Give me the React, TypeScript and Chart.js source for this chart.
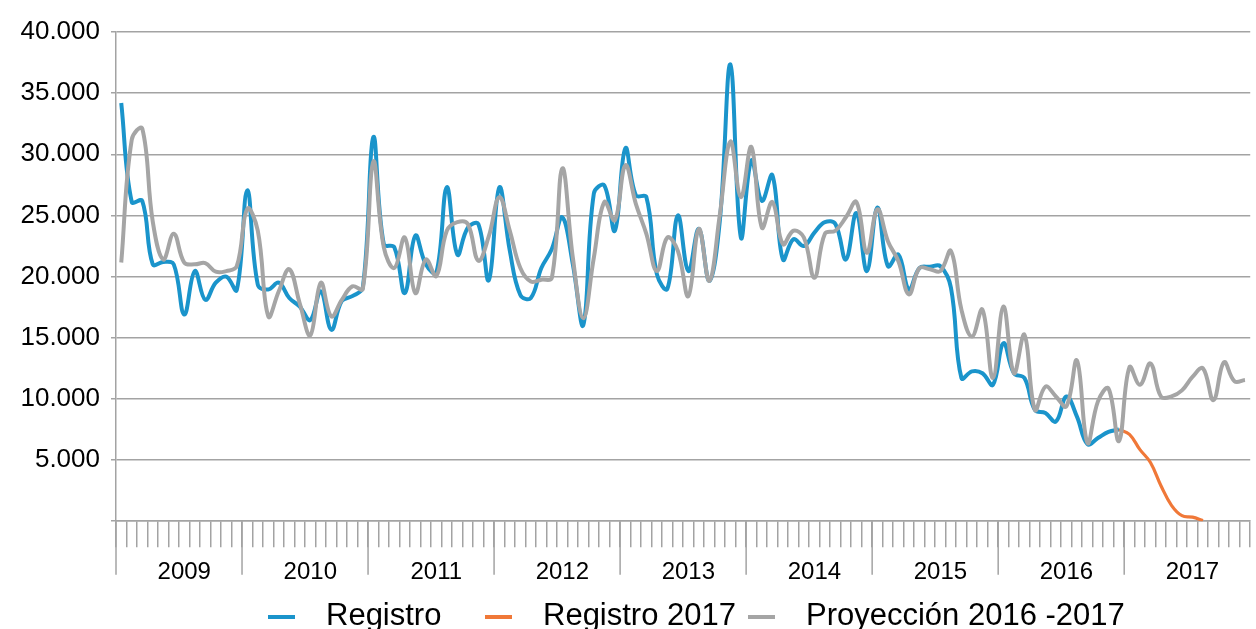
import React, { useEffect, useRef } from 'react';
import { Chart, registerables } from 'chart.js';

Chart.register(...registerables);

const years = ['2009', '2010', '2011', '2012', '2013', '2014', '2015', '2016', '2017'];
const months = ['01', '02', '03', '04', '05', '06', '07', '08', '09', '10', '11', '12'];

const registro = [
  34200, 26100, 26200, 21000, 21200, 21000, 16900, 20450, 18100, 19500, 20000, 18900,
  27050, 19350, 18950, 19500, 18250, 17550, 16450, 18800, 15650, 18000, 18400, 19100,
  31400, 22650, 22400, 18650, 23350, 21000, 20300, 27300, 21800, 24000, 24300, 19700,
  27300, 22100, 18500, 18250, 20700, 22250, 24850, 21000, 16050, 26800, 27450, 23750,
  30500, 26650, 26500, 20200, 19000, 25000, 20450, 23900, 19650, 24600, 37350, 23200,
  29500, 26200, 28300, 21400, 23050, 22500, 23600, 24450, 24300, 21400, 25200, 20450,
  25650, 20850, 21800, 18950, 20700, 20800, 20850, 19100, 11700, 12250, 12100, 11150,
  14550, 12100, 11700, 9100, 8850, 8150, 10200, 8550, 6300, 6800, 7300, 7500,
];

const registro2017Start = 95;
const registro2017 = [7500, 7100, 5850, 4800, 2900, 1300, 450, 330, 50];

const proyeccion = [
  21150, 31200, 32100, 24500, 21400, 23500, 21150, 21000, 21100, 20400, 20450, 20850,
  25550, 23750, 16750, 18800, 20600, 17800, 15200, 19500, 16750, 18100, 19200, 19000,
  29400, 22400, 20700, 23200, 18650, 21400, 20050, 23750, 24450, 24300, 21300, 23300,
  26500, 23750, 20700, 19600, 19750, 19900, 28850, 21550, 16600, 21550, 26100, 24600,
  29100, 25950, 23500, 20450, 23200, 22100, 18400, 23900, 19650, 25100, 31050, 26500,
  30600, 24000, 26100, 22650, 23750, 23200, 19900, 23500, 23750, 24850, 26100, 21950,
  25500, 22900, 21250, 18550, 20700, 20600, 20450, 22100, 17300, 15100, 17300, 11700,
  17550, 12100, 15250, 9100, 11000, 10200, 9400, 13150, 6400, 9800, 10850, 6550,
  12600, 11150, 12900, 10200, 10200, 10700, 11800, 12500, 9900, 13000, 11450, 11550,
];

const seriesNames = ['Registro', 'Registro 2017', 'Proyección 2016 -2017'];
const seriesColors = ['#1a94cb', '#f07838', '#a5a5a5'];

const GRID = '#a3a3a3';
const FONT = '"Liberation Sans", Arial, Helvetica, sans-serif';

const fmt = (v: number) => (v === 0 ? '' : String(v).replace(/\B(?=(\d{3})+(?!\d))/g, '.'));

const decorPlugin = {
  id: 'decor',
  afterDraw(chart: any) {
    const { ctx, chartArea } = chart;
    const x = chart.scales.x;
    ctx.save();
    ctx.strokeStyle = GRID;
    ctx.lineWidth = 1.5;
    for (let k = 0; k < years.length; k++) {
      const px = x.getPixelForValue(k * 12 - 0.5);
      ctx.beginPath();
      ctx.moveTo(px, chartArea.bottom);
      ctx.lineTo(px, chartArea.bottom + 53.5);
      ctx.stroke();
    }
    // legend
    const boxX = [268, 485, 748];
    ctx.font = `31px ${FONT}`;
    ctx.textBaseline = 'alphabetic';
    ctx.textAlign = 'left';
    for (let i = 0; i < seriesNames.length; i++) {
      ctx.strokeStyle = seriesColors[i];
      ctx.lineWidth = 4;
      ctx.beginPath();
      ctx.moveTo(boxX[i], 617);
      ctx.lineTo(boxX[i] + 27, 617);
      ctx.stroke();
      ctx.fillStyle = '#000000';
      ctx.fillText(seriesNames[i], boxX[i] + 58, 625);
    }
    ctx.restore();
  },
};

export default function App() {
  const ref = useRef<HTMLCanvasElement | null>(null);

  useEffect(() => {
    if (!ref.current) return;
    const labels: string[] = [];
    years.forEach((y) => months.forEach((m) => labels.push(`${y}-${m}`)));
    const blueData = labels.map((_, i) => (i < registro.length ? registro[i] : null));
    const orangeData = labels.map((_, i) => {
      const j = i - registro2017Start;
      return j >= 0 && j < registro2017.length ? registro2017[j] : null;
    });

    const chart = new Chart(ref.current, {
      type: 'line',
      data: {
        labels,
        datasets: [
          {
            label: seriesNames[0],
            data: blueData,
            borderColor: seriesColors[0],
            borderWidth: 4,
            pointRadius: 0,
            tension: 0.4,
            order: 3,
          },
          {
            label: seriesNames[1],
            data: orangeData,
            borderColor: seriesColors[1],
            borderWidth: 3.2,
            pointRadius: 0,
            tension: 0.4,
            order: 2,
          },
          {
            label: seriesNames[2],
            data: proyeccion,
            borderColor: seriesColors[2],
            borderWidth: 4,
            pointRadius: 0,
            tension: 0.4,
            order: 1,
          },
        ],
      },
      options: {
        responsive: false,
        animation: false,
        layout: { padding: { left: 0, right: 4, top: 32, bottom: 31 } },
        plugins: {
          legend: { display: false },
          tooltip: { enabled: false },
        },
        scales: {
          x: {
            type: 'category',
            offset: true,
            grid: {
              display: true,
              drawOnChartArea: false,
              offset: true,
              drawTicks: true,
              tickLength: 26,
              color: GRID,
              tickColor: GRID,
              lineWidth: 1.5,
            },
            border: { display: true, color: GRID, width: 1.5 },
            ticks: {
              autoSkip: false,
              maxRotation: 0,
              minRotation: 0,
              padding: 11,
              color: '#000000',
              font: { family: FONT, size: 24 },
              callback: (_v: any, idx: number) => (idx % 12 === 6 ? years[Math.floor(idx / 12)] : ''),
            },
          },
          y: {
            min: 0,
            max: 40000,
            afterFit: (s: any) => {
              s.width = 116;
            },
            grid: {
              color: GRID,
              tickColor: GRID,
              lineWidth: 1.5,
              drawTicks: true,
              tickLength: 5,
            },
            border: { display: true, color: GRID, width: 1.5 },
            ticks: {
              stepSize: 5000,
              padding: 11,
              color: '#000000',
              font: { family: FONT, size: 26 },
              callback: (v: any) => fmt(Number(v)),
            },
          },
        },
      },
      plugins: [decorPlugin],
    });
    return () => chart.destroy();
  }, []);

  return (
    <canvas
      ref={ref}
      width={1256}
      height={629}
      style={{ position: 'fixed', left: 0, top: 0, display: 'block', background: '#ffffff' }}
    />
  );
}
